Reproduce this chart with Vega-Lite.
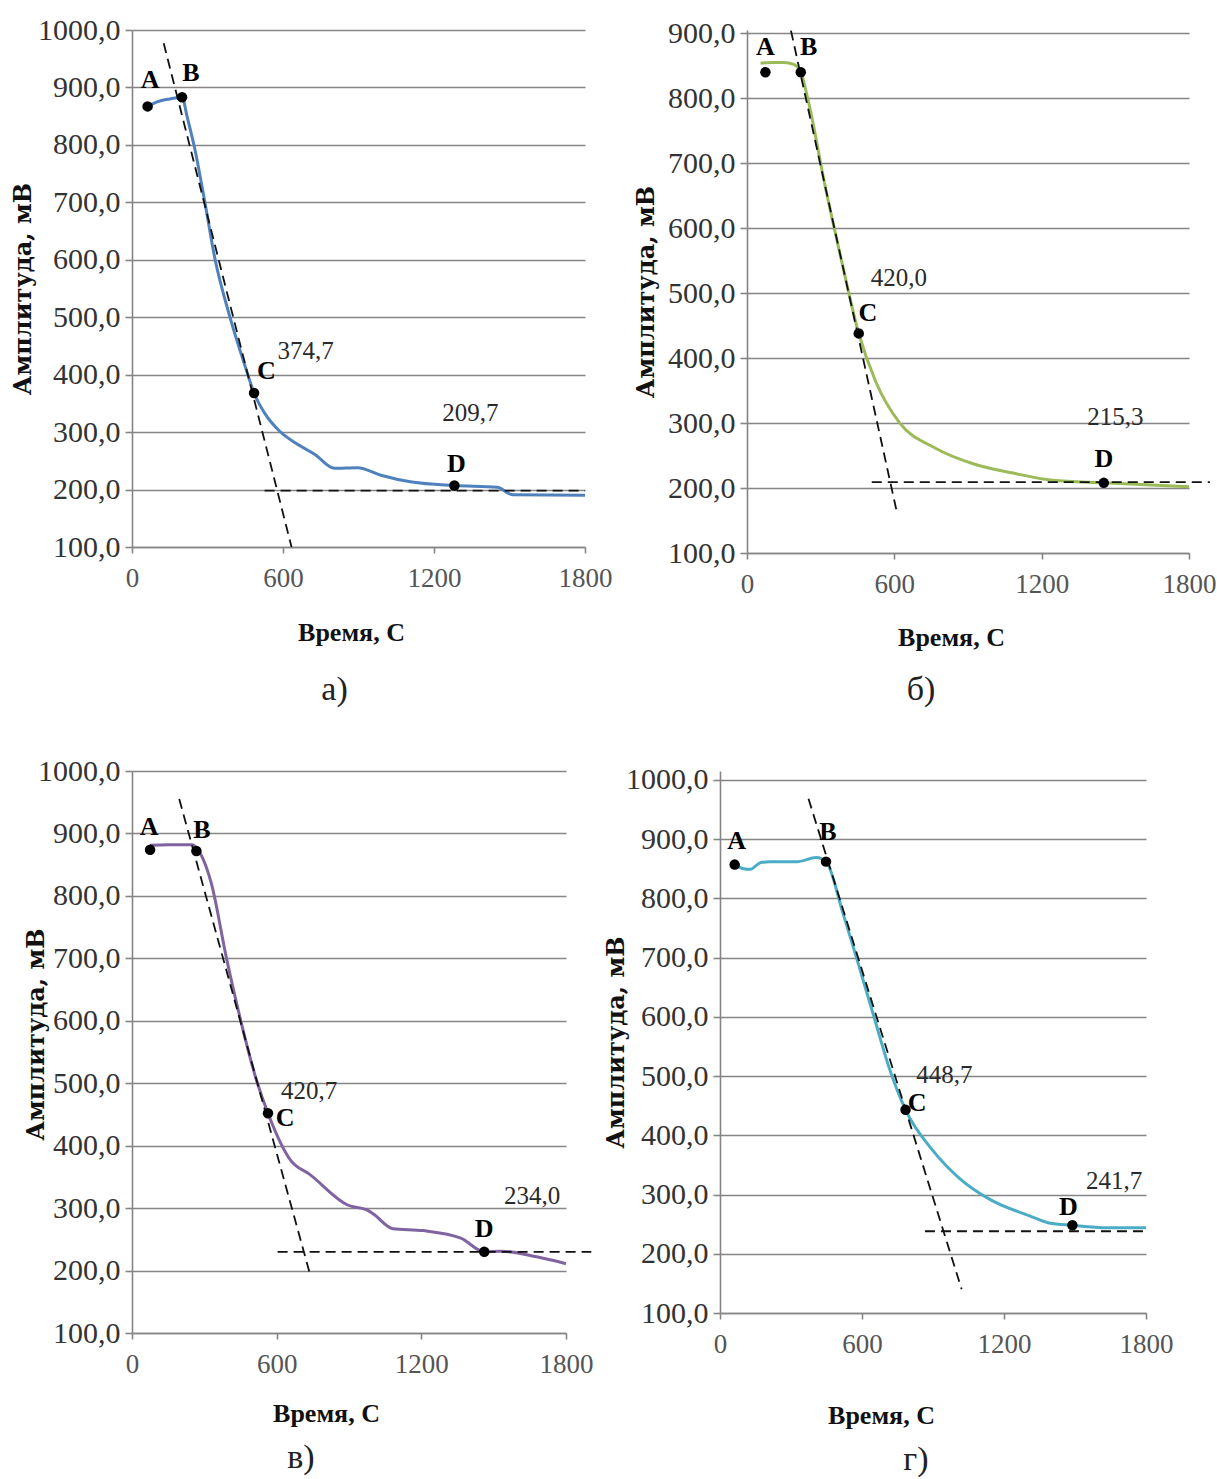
{
  "$schema": "https://vega.github.io/schema/vega-lite/v6.json",
  "background": "white",
  "padding": {"left": 11, "top": 15, "right": 0, "bottom": 0},
  "datasets": {
    "a_curve": [
      {"t": 62, "v": 867}, {"t": 100, "v": 875}, {"t": 150, "v": 880}, {"t": 199, "v": 883}, {"t": 219, "v": 849},
      {"t": 250, "v": 792}, {"t": 288, "v": 704}, {"t": 330, "v": 601}, {"t": 388, "v": 502}, {"t": 450, "v": 414},
      {"t": 485, "v": 368}, {"t": 527, "v": 333}, {"t": 588, "v": 301}, {"t": 650, "v": 281}, {"t": 727, "v": 261},
      {"t": 804, "v": 237}, {"t": 896, "v": 238}, {"t": 989, "v": 225}, {"t": 1112, "v": 213}, {"t": 1281, "v": 207},
      {"t": 1451, "v": 204}, {"t": 1512, "v": 191}, {"t": 1800, "v": 190}
    ],
    "a_tan": [{"t": 126, "v": 977, "t2": 634, "v2": 100}, {"t": 527, "v": 198, "t2": 1800, "v2": 198}],
    "a_pts": [{"t": 62, "v": 867}, {"t": 199, "v": 883}, {"t": 485, "v": 368}, {"t": 1281, "v": 207}],
    "a_let": [{"t": 72, "v": 913, "label": "A"}, {"t": 234, "v": 925, "label": "B"}, {"t": 534, "v": 406, "label": "C"}, {"t": 1289, "v": 245, "label": "D"}],
    "a_val": [{"t": 690, "v": 442, "label": "374,7"}, {"t": 1345, "v": 333, "label": "209,7"}],

    "b_curve": [
      {"t": 55, "v": 854}, {"t": 100, "v": 855}, {"t": 150, "v": 855}, {"t": 190, "v": 852}, {"t": 219, "v": 840},
      {"t": 250, "v": 795}, {"t": 317, "v": 667}, {"t": 382, "v": 555}, {"t": 455, "v": 438}, {"t": 524, "v": 364},
      {"t": 620, "v": 301}, {"t": 764, "v": 262}, {"t": 924, "v": 237}, {"t": 1084, "v": 223}, {"t": 1244, "v": 212},
      {"t": 1453, "v": 208}, {"t": 1800, "v": 202}
    ],
    "b_tan": [{"t": 179, "v": 904, "t2": 612, "v2": 160}, {"t": 508, "v": 209, "t2": 1885, "v2": 209}],
    "b_pts": [{"t": 75, "v": 840}, {"t": 219, "v": 840}, {"t": 455, "v": 438}, {"t": 1453, "v": 208}],
    "b_let": [{"t": 75, "v": 879, "label": "A"}, {"t": 251, "v": 879, "label": "B"}, {"t": 492, "v": 470, "label": "C"}, {"t": 1453, "v": 245, "label": "D"}],
    "b_val": [{"t": 618, "v": 523, "label": "420,0"}, {"t": 1500, "v": 310, "label": "215,3"}],

    "v_curve": [
      {"t": 75, "v": 881}, {"t": 150, "v": 882}, {"t": 251, "v": 882}, {"t": 267, "v": 877}, {"t": 329, "v": 820},
      {"t": 392, "v": 700}, {"t": 455, "v": 594}, {"t": 517, "v": 504}, {"t": 564, "v": 452}, {"t": 659, "v": 376},
      {"t": 737, "v": 354}, {"t": 894, "v": 305}, {"t": 980, "v": 296}, {"t": 1003, "v": 290}, {"t": 1082, "v": 267},
      {"t": 1207, "v": 264}, {"t": 1364, "v": 252}, {"t": 1461, "v": 230}, {"t": 1530, "v": 231}, {"t": 1678, "v": 222},
      {"t": 1800, "v": 211}
    ],
    "v_tan": [{"t": 196, "v": 955, "t2": 737, "v2": 196}, {"t": 604, "v": 230, "t2": 1905, "v2": 230}],
    "v_pts": [{"t": 75, "v": 874}, {"t": 267, "v": 872}, {"t": 564, "v": 452}, {"t": 1461, "v": 230}],
    "v_let": [{"t": 71, "v": 910, "label": "A"}, {"t": 290, "v": 906, "label": "B"}, {"t": 635, "v": 444, "label": "C"}, {"t": 1461, "v": 267, "label": "D"}],
    "v_val": [{"t": 735, "v": 487, "label": "420,7"}, {"t": 1660, "v": 320, "label": "234,0"}],

    "g_curve": [
      {"t": 62, "v": 857}, {"t": 100, "v": 850}, {"t": 128, "v": 849}, {"t": 170, "v": 860}, {"t": 210, "v": 862},
      {"t": 325, "v": 862}, {"t": 407, "v": 869}, {"t": 448, "v": 862}, {"t": 521, "v": 773}, {"t": 587, "v": 686},
      {"t": 652, "v": 598}, {"t": 718, "v": 510}, {"t": 784, "v": 443}, {"t": 898, "v": 375}, {"t": 1013, "v": 327},
      {"t": 1144, "v": 291}, {"t": 1308, "v": 264}, {"t": 1390, "v": 252}, {"t": 1489, "v": 248}, {"t": 1636, "v": 244},
      {"t": 1800, "v": 244}
    ],
    "g_tan": [{"t": 374, "v": 968, "t2": 1021, "v2": 140}, {"t": 866, "v": 238, "t2": 1800, "v2": 238}],
    "g_pts": [{"t": 62, "v": 857}, {"t": 448, "v": 862}, {"t": 784, "v": 443}, {"t": 1489, "v": 248}],
    "g_let": [{"t": 70, "v": 896, "label": "A"}, {"t": 456, "v": 912, "label": "B"}, {"t": 833, "v": 455, "label": "C"}, {"t": 1472, "v": 279, "label": "D"}],
    "g_val": [{"t": 948, "v": 502, "label": "448,7"}, {"t": 1665, "v": 323, "label": "241,7"}]
  },
  "spacing": 49,
  "vconcat": [
    {
      "spacing": 162,
      "bounds": "flush",
      "hconcat": [
        {
          "width": 453, "height": 517,
          "title": {"text": "а)", "orient": "bottom", "frame": "group", "offset": 28, "dx": -24},
          "layer": [
            {"data": {"name": "a_curve"}, "mark": {"type": "line", "color": "#4f81bd", "strokeWidth": 3, "interpolate": "monotone"},
             "encoding": {
               "x": {"field": "t", "type": "quantitative", "scale": {"domain": [0, 1800], "nice": false},
                     "axis": {"values": [0, 600, 1200, 1800], "format": "d", "title": "Время, С", "titleX": 219, "titleY": 85}},
               "y": {"field": "v", "type": "quantitative", "scale": {"domain": [100, 1000], "nice": false, "zero": false},
                     "axis": {"values": [100, 200, 300, 400, 500, 600, 700, 800, 900, 1000], "title": "Амплитуда, мВ", "titleX": -109}}
             }},
            {"data": {"name": "a_tan"}, "mark": {"type": "rule", "color": "#111", "strokeWidth": 1.8, "strokeDash": [10, 6]},
             "encoding": {"x": {"field": "t", "type": "quantitative"}, "y": {"field": "v", "type": "quantitative"}, "x2": {"field": "t2"}, "y2": {"field": "v2"}}},
            {"data": {"name": "a_pts"}, "mark": {"type": "circle", "color": "#000", "opacity": 1, "size": 110},
             "encoding": {"x": {"field": "t", "type": "quantitative"}, "y": {"field": "v", "type": "quantitative"}}},
            {"data": {"name": "a_let"}, "mark": {"type": "text", "font": "Liberation Serif", "fontWeight": "bold", "fontSize": 26, "color": "#000"},
             "encoding": {"x": {"field": "t", "type": "quantitative"}, "y": {"field": "v", "type": "quantitative"}, "text": {"field": "label"}}},
            {"data": {"name": "a_val"}, "mark": {"type": "text", "font": "Liberation Serif", "fontSize": 25, "color": "#2a2a2a"},
             "encoding": {"x": {"field": "t", "type": "quantitative"}, "y": {"field": "v", "type": "quantitative"}, "text": {"field": "label"}}}
          ]
        },
        {
          "width": 442, "height": 523,
          "title": {"text": "б)", "orient": "bottom", "frame": "group", "offset": 23, "dx": -47},
          "layer": [
            {"data": {"name": "b_curve"}, "mark": {"type": "line", "color": "#9bbb59", "strokeWidth": 3, "interpolate": "monotone"},
             "encoding": {
               "x": {"field": "t", "type": "quantitative", "scale": {"domain": [0, 1800], "nice": false},
                     "axis": {"values": [0, 600, 1200, 1800], "format": "d", "title": "Время, С", "titleX": 204, "titleY": 84}},
               "y": {"field": "v", "type": "quantitative", "scale": {"domain": [100, 905], "nice": false, "zero": false},
                     "axis": {"values": [100, 200, 300, 400, 500, 600, 700, 800, 900], "title": "Амплитуда, мВ", "titleX": -101}}
             }},
            {"data": {"name": "b_tan"}, "mark": {"type": "rule", "color": "#111", "strokeWidth": 1.8, "strokeDash": [10, 6]},
             "encoding": {"x": {"field": "t", "type": "quantitative"}, "y": {"field": "v", "type": "quantitative"}, "x2": {"field": "t2"}, "y2": {"field": "v2"}}},
            {"data": {"name": "b_pts"}, "mark": {"type": "circle", "color": "#000", "opacity": 1, "size": 110},
             "encoding": {"x": {"field": "t", "type": "quantitative"}, "y": {"field": "v", "type": "quantitative"}}},
            {"data": {"name": "b_let"}, "mark": {"type": "text", "font": "Liberation Serif", "fontWeight": "bold", "fontSize": 26, "color": "#000"},
             "encoding": {"x": {"field": "t", "type": "quantitative"}, "y": {"field": "v", "type": "quantitative"}, "text": {"field": "label"}}},
            {"data": {"name": "b_val"}, "mark": {"type": "text", "font": "Liberation Serif", "fontSize": 25, "color": "#2a2a2a"},
             "encoding": {"x": {"field": "t", "type": "quantitative"}, "y": {"field": "v", "type": "quantitative"}, "text": {"field": "label"}}}
          ]
        }
      ]
    },
    {
      "spacing": 154,
      "bounds": "flush",
      "hconcat": [
        {
          "width": 434, "height": 562,
          "title": {"text": "в)", "orient": "bottom", "frame": "group", "offset": 15, "dx": -48},
          "layer": [
            {"data": {"name": "v_curve"}, "mark": {"type": "line", "color": "#8064a2", "strokeWidth": 3, "interpolate": "monotone"},
             "encoding": {
               "x": {"field": "t", "type": "quantitative", "scale": {"domain": [0, 1800], "nice": false},
                     "axis": {"values": [0, 600, 1200, 1800], "format": "d", "title": "Время, С", "titleX": 194, "titleY": 80}},
               "y": {"field": "v", "type": "quantitative", "scale": {"domain": [100, 1000], "nice": false, "zero": false},
                     "axis": {"values": [100, 200, 300, 400, 500, 600, 700, 800, 900, 1000], "title": "Амплитуда, мВ", "titleX": -96, "titleY": 263}}
             }},
            {"data": {"name": "v_tan"}, "mark": {"type": "rule", "color": "#111", "strokeWidth": 1.8, "strokeDash": [10, 6]},
             "encoding": {"x": {"field": "t", "type": "quantitative"}, "y": {"field": "v", "type": "quantitative"}, "x2": {"field": "t2"}, "y2": {"field": "v2"}}},
            {"data": {"name": "v_pts"}, "mark": {"type": "circle", "color": "#000", "opacity": 1, "size": 110},
             "encoding": {"x": {"field": "t", "type": "quantitative"}, "y": {"field": "v", "type": "quantitative"}}},
            {"data": {"name": "v_let"}, "mark": {"type": "text", "font": "Liberation Serif", "fontWeight": "bold", "fontSize": 26, "color": "#000"},
             "encoding": {"x": {"field": "t", "type": "quantitative"}, "y": {"field": "v", "type": "quantitative"}, "text": {"field": "label"}}},
            {"data": {"name": "v_val"}, "mark": {"type": "text", "font": "Liberation Serif", "fontSize": 25, "color": "#2a2a2a"},
             "encoding": {"x": {"field": "t", "type": "quantitative"}, "y": {"field": "v", "type": "quantitative"}, "text": {"field": "label"}}}
          ]
        },
        {
          "width": 426, "height": 542,
          "title": {"text": "г)", "orient": "bottom", "frame": "group", "offset": 15, "dx": -17},
          "layer": [
            {"data": {"name": "g_curve"}, "mark": {"type": "line", "color": "#4bacc6", "strokeWidth": 3, "interpolate": "monotone"},
             "encoding": {
               "x": {"field": "t", "type": "quantitative", "scale": {"domain": [0, 1800], "nice": false},
                     "axis": {"values": [0, 600, 1200, 1800], "format": "d", "title": "Время, С", "titleX": 161, "titleY": 102}},
               "y": {"field": "v", "type": "quantitative", "scale": {"domain": [100, 1015], "nice": false, "zero": false},
                     "axis": {"values": [100, 200, 300, 400, 500, 600, 700, 800, 900, 1000], "title": "Амплитуда, мВ", "titleX": -104}}
             }},
            {"data": {"name": "g_tan"}, "mark": {"type": "rule", "color": "#111", "strokeWidth": 1.8, "strokeDash": [10, 6]},
             "encoding": {"x": {"field": "t", "type": "quantitative"}, "y": {"field": "v", "type": "quantitative"}, "x2": {"field": "t2"}, "y2": {"field": "v2"}}},
            {"data": {"name": "g_pts"}, "mark": {"type": "circle", "color": "#000", "opacity": 1, "size": 110},
             "encoding": {"x": {"field": "t", "type": "quantitative"}, "y": {"field": "v", "type": "quantitative"}}},
            {"data": {"name": "g_let"}, "mark": {"type": "text", "font": "Liberation Serif", "fontWeight": "bold", "fontSize": 26, "color": "#000"},
             "encoding": {"x": {"field": "t", "type": "quantitative"}, "y": {"field": "v", "type": "quantitative"}, "text": {"field": "label"}}},
            {"data": {"name": "g_val"}, "mark": {"type": "text", "font": "Liberation Serif", "fontSize": 25, "color": "#2a2a2a"},
             "encoding": {"x": {"field": "t", "type": "quantitative"}, "y": {"field": "v", "type": "quantitative"}, "text": {"field": "label"}}}
          ]
        }
      ]
    }
  ],
  "config": {
    "view": {"stroke": null},
    "font": "Liberation Serif",
    "axis": {
      "domainColor": "#858585", "domainWidth": 1.6,
      "tickColor": "#858585", "tickWidth": 1.6,
      "gridColor": "#858585", "gridWidth": 1.4,
      "labelFont": "Liberation Serif", "labelColor": "#333333",
      "titleFontWeight": "bold", "titleColor": "#111"
    },
    "axisX": {"grid": false, "tickSize": 6, "labelPadding": 12, "labelFlush": false, "labelFontSize": 27, "labelColor": "#555",
              "titleFont": "Liberation Serif", "titleFontSize": 26, "titleBaseline": "middle"},
    "axisY": {"grid": true, "tickSize": 7, "labelPadding": 5, "labelFontSize": 30,
              "labelExpr": "replace(format(datum.value, '.1f'), '.', ',')",
              "titleFont": "DejaVu Serif", "titleFontSize": 24, "titleBaseline": "middle", "titleAngle": 270},
    "title": {"font": "Liberation Serif", "fontSize": 34, "fontWeight": "normal", "color": "#222", "anchor": "middle"}
  }
}
